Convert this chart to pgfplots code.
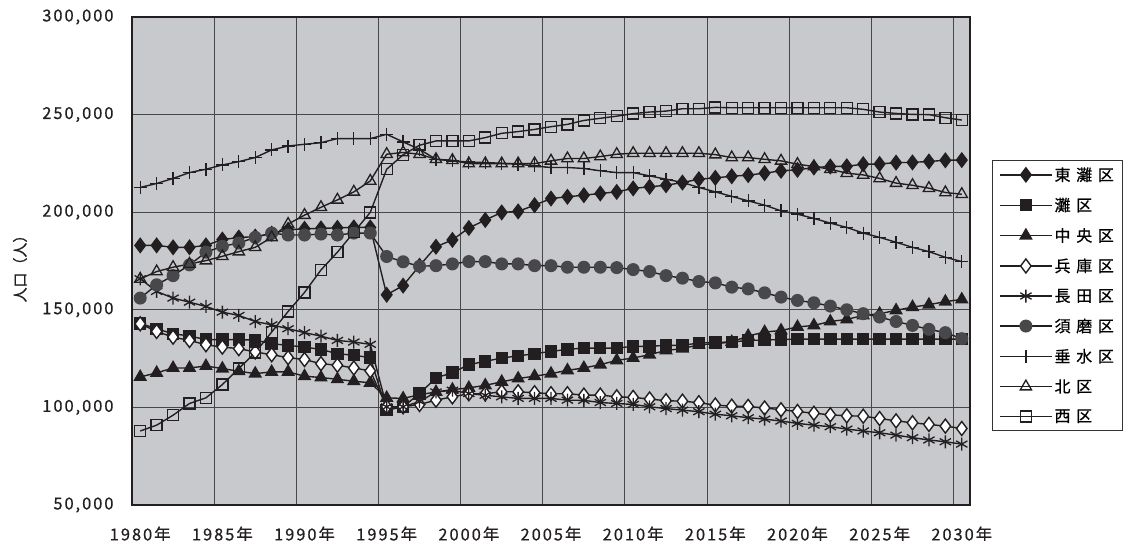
\documentclass[border=0pt]{standalone}
\usepackage{fontspec}
\usepackage{pgfplots}
\pgfplotsset{compat=1.18}
\usepackage{pgfplotstable}
\setmainfont{Noto Sans CJK JP}[LetterSpace=12, FakeBold=0.6]
\newfontfamily\legfont{Noto Sans CJK JP}[LetterSpace=36, FakeBold=0.6]
\newfontfamily\labfont{Noto Sans CJK JP}[FakeBold=0.6]

\definecolor{plotbg}{RGB}{200,201,204}
\definecolor{ink}{RGB}{35,31,32}
\definecolor{sumagray}{RGB}{72,72,74}

% year, 東灘 灘 中央 兵庫 長田 須磨 垂水 北 西
\pgfplotstableread{
year hn nd ch hy ng sm tr kt ns
1980 183000 143000 115600 142800 165900 156000 212700 165800 87900
1981 183000 140300 117700 138900 159400 162800 214700 169600 90900
1982 182000 137700 120200 136000 156000 167500 217300 171800 96000
1983 182000 136600 120200 134300 153900 173000 220300 173500 102000
1984 183000 134700 121200 132100 151700 179500 222000 175200 104900
1985 186000 134700 119900 130900 148800 182500 224200 177400 111700
1986 187000 134700 118500 130100 147100 184200 225900 179800 119900
1987 187500 134500 117300 128400 144000 187100 228000 182000 128100
1988 189000 132600 118200 127000 142300 189300 231900 187100 138600
1989 191000 131800 118200 125500 140300 188300 233900 193900 149100
1990 191500 130900 116000 124500 138300 188300 234800 198500 158900
1991 191700 129700 115300 122400 136500 188800 235600 202500 170400
1992 192000 127500 114400 121600 134300 188300 237700 206300 179500
1993 192200 126700 113400 120200 133500 189300 237700 210400 189700
1994 192200 125500 112600 118700 132300 189300 237700 216000 199900
1995 157700 98600 104900 100300 100300 177300 239900 229700 222000
1996 162400 100300 104600 100300 100300 174600 236000 230600 229400
1997 172600 107100 106500 101500 103000 172300 232200 229700 234300
1998 182300 115100 107900 103700 107900 172600 227100 227100 236500
1999 185800 117800 109100 105400 108800 173500 226300 226600 236500
2000 191900 121900 110000 107000 107100 174700 225700 224900 236500
2001 196000 123600 111300 107000 106200 174700 225400 224900 238200
2002 199900 125300 113100 108000 105400 173500 225100 224900 240400
2003 200400 126400 114800 108000 104600 173500 224600 224900 241300
2004 203600 127500 116000 107500 104600 172600 223700 224900 242400
2005 207000 128700 117300 107000 104600 172600 222900 226300 243800
2006 207900 129700 119000 107000 103700 171800 222900 227500 245000
2007 208700 130400 120200 106300 103600 171800 222400 227500 247000
2008 209600 130400 121900 106300 102500 171800 221200 228500 248100
2009 210400 130400 124100 105400 102000 171600 220300 229700 249200
2010 212200 131300 125300 105100 101500 170600 220300 230200 250500
2011 213000 131300 127000 104300 100300 169600 218600 230200 251300
2012 213800 131800 129200 103400 99400 167500 216900 230200 251800
2013 215200 131800 130100 103200 98600 166200 215200 230200 253000
2014 216900 133000 132100 102400 97800 164500 212700 230200 253000
2015 217600 133300 132600 101200 96500 163800 210400 229500 253700
2016 218400 133500 133500 100600 95700 161600 208100 228000 253500
2017 219000 134300 136600 100500 94700 160700 205800 228000 253500
2018 220000 134500 138600 99700 94000 158700 203600 227100 253500
2019 221200 134800 139400 98800 93000 156500 200700 226300 253500
2020 221700 135000 141200 97900 91800 154800 199000 224600 253500
2021 222900 135000 142000 97000 90900 153600 196800 223400 253500
2022 223400 135000 144000 96200 90100 151900 194400 222000 253500
2023 223500 135000 145100 95700 88900 150000 192200 220000 253500
2024 224600 135000 147100 95500 87900 148000 189300 219100 252700
2025 224700 135000 148000 94300 87000 146300 187100 217300 251300
2026 225400 135000 149700 93100 85800 144000 184600 214900 250600
2027 225500 135000 151400 92100 84500 142000 182000 213800 250100
2028 226000 135000 152600 91300 83300 140000 179800 212300 250000
2029 226600 135000 154200 90400 82400 138300 176900 210100 248400
2030 226700 135000 155300 89200 81200 135200 174700 209200 247200
}\wards

\begin{document}
\begin{tikzpicture}
\path[use as bounding box] (0,0) rectangle (1134bp,541bp);
\begin{axis}[
  at={(132bp,36bp)}, anchor=south west,
  scale only axis, width=838bp, height=488bp,
  xmin=1979.5, xmax=2030.5,
  ymin=50000, ymax=300000,
  axis background/.style={fill=plotbg},
  axis line style={ink, line width=1.2bp},
  xtick={1980,1985,...,2030},
  xticklabels={1980年,1985年,1990年,1995年,2000年,2005年,2010年,2015年,2020年,2025年,2030年},
  minor xtick={1984.5,1989.5,...,2029.5},
  xminorgrids, ymajorgrids,
  ytick={50000,100000,...,300000},
  major tick length=0pt, minor tick length=0pt,
  grid style={black!72, line width=0.9bp},
  minor grid style={black!72, line width=0.9bp},
  scaled y ticks=false,
  /pgf/number format/.cd, fixed, 1000 sep={,}, assume math mode=true,
  /pgfplots/.cd,
  tick label style={font=\fontsize{16.5}{16.5}\selectfont, ink},
  xticklabel style={yshift=-18bp},
  yticklabel style={xshift=-15bp},
  every axis plot/.append style={ink, line width=1.4bp, mark options={solid, line width=1.3bp}},
  legend image code/.code={\draw[mark repeat=2,mark phase=2] plot coordinates {(0bp,0bp) (26bp,0bp) (52bp,0bp)};},
  legend style={at={(1.026,0.707)}, anchor=north west, draw=black!80, line width=0.8bp,
    fill=white, font=\legfont\fontsize{16}{16}\selectfont, row sep=11.5bp,
    inner xsep=7bp, inner ysep=5bp, cells={anchor=west}},
]
\addplot[mark=diamond*, mark size=7bp, mark options={fill=ink}] table[x=year,y=hn]{\wards};
\addplot[mark=square*, mark size=5.5bp, mark options={fill=ink}] table[x=year,y=nd]{\wards};
\addplot[mark=triangle*, mark size=6.5bp, mark options={fill=ink}] table[x=year,y=ch]{\wards};
\addplot[mark=diamond*, mark size=7bp, mark options={fill=white}] table[x=year,y=hy]{\wards};
\addplot[mark=asterisk, mark size=6.5bp] table[x=year,y=ng]{\wards};
\addplot[mark=*, mark size=5.8bp, mark options={draw=sumagray, fill=sumagray}] table[x=year,y=sm]{\wards};
\addplot[mark=+, mark size=6.5bp] table[x=year,y=tr]{\wards};
\addplot[mark=triangle, mark size=6.5bp] table[x=year,y=kt]{\wards};
\addplot[mark=square, mark size=5.5bp] table[x=year,y=ns]{\wards};
\legend{東灘区,灘区,中央区,兵庫区,長田区,須磨区,垂水区,北区,西区}
\end{axis}
\node[rotate=90, text=ink] at (20bp,276bp) {\labfont\fontsize{15}{15}\selectfont 人口（人）};
\end{tikzpicture}
\end{document}
